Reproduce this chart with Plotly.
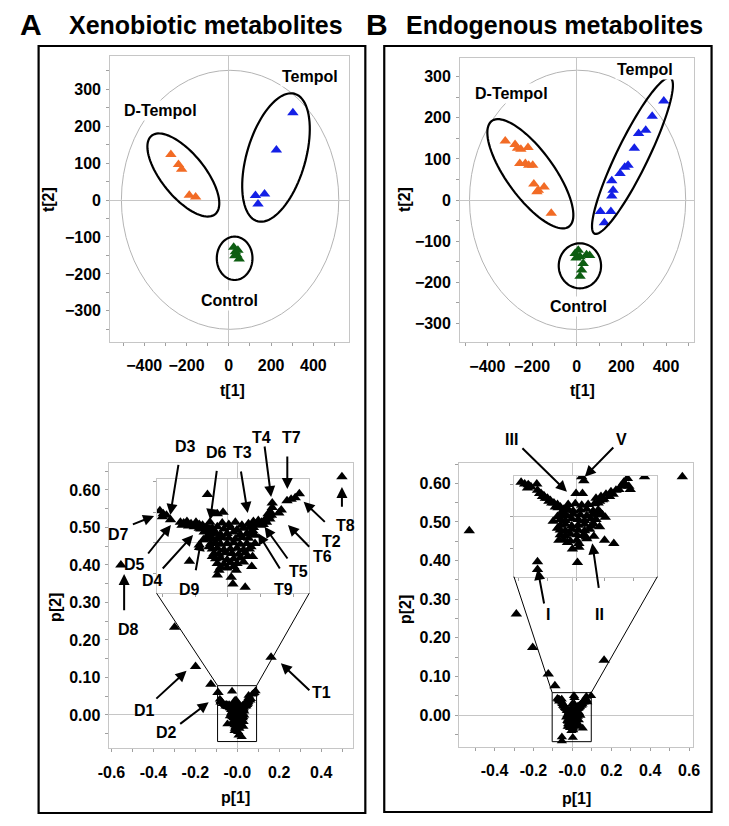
import numpy as np
import plotly.graph_objects as go

W, H = 729, 826
FONT = "Liberation Sans, Arial, Helvetica, sans-serif"

# ---------------- Score plots (t[1] vs t[2]) ----------------
xeno_dtempol_t1 = [-274, -238, -223, -187, -157]
xeno_dtempol_t2 = [123, 96, 83, 13, 8]
xeno_tempol_t1 = [303, 225, 126, 169, 138]
xeno_tempol_t2 = [236, 135, 12, 16, -11]
xeno_control_t1 = [23, 31, 38, 49, 28, 43]
xeno_control_t2 = [-128, -140, -149, -160, -151, -136]

endo_dtempol_t1 = [-320, -276, -265, -250, -218, -255, -230, -215, -197, -192, -178, -146, -114, -172]
endo_dtempol_t2 = [144, 135, 126, 124, 128, 89, 89, 85, 85, 39, 20, 32, -32, 24]
endo_tempol_t1 = [390, 338, 309, 277, 258, 230, 215, 194, 157, 163, 157, 106, 153, 124]
endo_tempol_t2 = [241, 204, 170, 162, 126, 85, 80, 65, 47, 24, 10, -28, -28, -55]
endo_control_t1 = [-7, 15, 44, 29, 22, 15, 7, 58, -3]
endo_control_t2 = [-130, -138, -133, -154, -170, -185, -122, -135, -141]

score_x_ticks = [-400, -200, 0, 200, 400]
score_y_ticks = [-300, -200, -100, 0, 100, 200, 300]

# ---------------- Loading plots (p[1] vs p[2]) ----------------
xeno_outer_p1 = [-0.299, -0.199, -0.126, -0.092, 0.161, -0.555, 0.499]
xeno_outer_p2 = [0.234, 0.129, 0.082, 0.060, 0.154, 0.400, 0.635]

xeno_core_p1 = [
    -0.083, -0.079, -0.075, -0.070, -0.080,
    -0.058, -0.054, -0.050, -0.045, -0.039, -0.035, -0.031, -0.026, -0.022, -0.035, -0.029, -0.025, -0.030,
    -0.056, -0.048, -0.041, -0.033, -0.027, -0.020,
    -0.025, -0.013, -0.006, -0.022,
    -0.007, 0.001, 0.009, 0.017, 0.025, 0.031,
    -0.019, -0.013, -0.005, 0.003, 0.011, 0.019, 0.027,
    -0.021, -0.015, -0.009, -0.001, 0.007, 0.015, 0.023, 0.029,
    -0.019, -0.013, -0.007, 0.001, 0.009, 0.017, 0.025,
    -0.021, -0.015, -0.009, -0.001, 0.007, 0.015, 0.023,
    -0.019, -0.013, -0.005, 0.003, 0.011, 0.019, 0.026,
    -0.017, -0.011, -0.003, 0.005, 0.013, 0.021,
    -0.015, -0.009, -0.001, 0.007, 0.015,
    -0.013, -0.005, 0.003, 0.011,
    -0.009, -0.001, 0.007,
    -0.024, 0.033, 0.030, -0.023, 0.028, -0.019, 0.024, 0.019, -0.011, 0.010,
    0.033, 0.037, 0.041, 0.045, 0.048, 0.050, 0.052, 0.054, 0.054, 0.049, 0.039,
    0.031, 0.036, 0.043, 0.047, 0.051, 0.053,
    0.062, 0.065, 0.072, 0.077, 0.082, 0.087,
    -0.047, -0.013, 0.004, 0.006, 0.021, 0.029, 0.030, 0.033, -0.035,
]
xeno_core_p2 = [
    0.042, 0.038, 0.036, 0.030, 0.034,
    0.027, 0.026, 0.028, 0.025, 0.027, 0.024, 0.023, 0.021, 0.018, 0.019, 0.014, 0.009, 0.004,
    0.023, 0.022, 0.021, 0.018, 0.016, 0.015,
    0.063, 0.038, 0.040, 0.027,
    0.026, 0.024, 0.027, 0.023, 0.025, 0.028,
    0.019, 0.021, 0.018, 0.020, 0.017, 0.019, 0.021,
    0.012, 0.013, 0.011, 0.012, 0.014, 0.011, 0.012, 0.013,
    0.006, 0.005, 0.007, 0.006, 0.005, 0.007, 0.006,
    -0.001, 0.000, -0.002, -0.001, 0.000, -0.002, -0.001,
    -0.008, -0.007, -0.009, -0.008, -0.007, -0.009, -0.008,
    -0.014, -0.015, -0.013, -0.014, -0.015, -0.013,
    -0.021, -0.020, -0.022, -0.021, -0.020,
    -0.027, -0.028, -0.026, -0.027,
    -0.032, -0.033, -0.031,
    0.005, 0.010, 0.016, -0.005, -0.005, -0.018, -0.018, -0.025, -0.036, -0.036,
    0.025, 0.029, 0.027, 0.030, 0.032, 0.035, 0.040, 0.046, 0.052, 0.038, 0.023,
    0.020, 0.024, 0.024, 0.027, 0.031, 0.036,
    0.039, 0.043, 0.055, 0.057, 0.059, 0.064,
    -0.024, -0.042, -0.045, -0.054, -0.058, -0.031, -0.018, -0.001, -0.003,
]

endo_outer_p1 = [0.565, -0.530, -0.288, -0.204, -0.124, -0.090, 0.163]
endo_outer_p2 = [0.617, 0.477, 0.262, 0.175, 0.106, 0.076, 0.142]

endo_core_p1 = [
    -0.077, -0.072, -0.067, -0.065, -0.068, -0.055, -0.063,
    -0.054, -0.049, -0.045, -0.040, -0.036, -0.031, -0.026, -0.022, -0.017, -0.047, -0.038, -0.029,
    -0.051, -0.043, -0.034, -0.025, -0.019,
    0.028, 0.035, 0.042, 0.049, 0.056, 0.063, 0.067, 0.072, 0.074, 0.076, 0.096, 0.037, 0.047, 0.033,
    0.031, 0.039, 0.052, 0.060, 0.069,
    0.008, 0.011, 0.000, 0.009,
    -0.011, -0.001, 0.008, 0.017, 0.026,
    -0.017, -0.011, -0.004, 0.006, 0.015, 0.024, 0.031,
    -0.020, -0.013, -0.004, 0.006, 0.015, 0.024, 0.031,
    -0.022, -0.015, -0.006, 0.003, 0.012, 0.021, 0.028,
    -0.022, -0.015, -0.006, 0.003, 0.012, 0.021,
    -0.022, -0.015, -0.006, 0.003, 0.012, 0.019,
    -0.022, -0.015, -0.008, 0.001, 0.010,
    -0.024, -0.017, -0.008, 0.001,
    -0.026, 0.034, -0.026, 0.025, 0.015, -0.012, 0.004,
    -0.032, 0.037, 0.041, 0.033, 0.025, 0.040, 0.053, -0.005, 0.004, 0.014, 0.002, -0.054, -0.054,
]
endo_core_p2 = [
    0.043, 0.041, 0.040, 0.038, 0.036, 0.041, 0.037,
    0.033, 0.029, 0.026, 0.023, 0.020, 0.017, 0.015, 0.012, 0.009, 0.025, 0.019, 0.012,
    0.029, 0.023, 0.017, 0.011, 0.006,
    0.023, 0.025, 0.028, 0.031, 0.033, 0.038, 0.043, 0.048, 0.038, 0.034, 0.050, 0.021, 0.025, 0.019,
    0.017, 0.022, 0.028, 0.034, 0.040,
    0.050, 0.045, 0.029, 0.029,
    0.015, 0.016, 0.014, 0.015, 0.016,
    0.008, 0.009, 0.007, 0.008, 0.009, 0.007, 0.008,
    0.002, 0.001, 0.003, 0.002, 0.001, 0.003, 0.002,
    -0.004, -0.005, -0.003, -0.004, -0.005, -0.003, -0.004,
    -0.011, -0.010, -0.012, -0.011, -0.010, -0.012,
    -0.017, -0.018, -0.016, -0.017, -0.018, -0.016,
    -0.023, -0.024, -0.022, -0.023, -0.024,
    -0.030, -0.029, -0.031, -0.030,
    0.000, 0.005, -0.015, -0.010, -0.028, -0.033, -0.034,
    -0.006, 0.002, -0.001, -0.013, -0.025, -0.030, -0.034, -0.041, -0.039, -0.026, -0.058, -0.057, -0.067,
]

p2_ticks = [0.0, 0.1, 0.2, 0.3, 0.4, 0.5, 0.6]
xeno_p1_ticks = [-0.6, -0.4, -0.2, 0.0, 0.2, 0.4]
xeno_p1_labels = ["-0.6", "-0.4", "-0.2", "-0.0", "0.2", "0.4"]
endo_p1_ticks = [-0.4, -0.2, 0.0, 0.2, 0.4, 0.6]
endo_p1_labels = ["-0.4", "-0.2", "-0.0", "0.2", "0.4", "0.6"]

xeno_zoom_box = (-0.094, 0.092, -0.071, 0.078)   # p1 min, p1 max, p2 min, p2 max
endo_zoom_box = (-0.104, 0.097, -0.069, 0.058)

# ---------------- Geometry (pixel boxes of each plot area) ----------------
AX = {
    1: dict(px=(101.7, 346.7, 56.0, 341.7), xr=(-561, 569), yr=(-383.5, 389.7)),
    2: dict(px=(460.5, 700.7, 58.3, 342.3), xr=(-522, 527), yr=(-346, 345)),
    3: dict(px=(100.0, 350.7, 463.3, 748.3), xr=(-0.614, 0.552), yr=(-0.089, 0.671)),
    4: dict(px=(149.3, 305.7, 479.3, 593.3), xr=(-0.087, 0.099), yr=(-0.066, 0.083)),
    5: dict(px=(459.3, 699.3, 463.3, 746.7), xr=(-0.583, 0.620), yr=(-0.082, 0.652)),
    6: dict(px=(515.7, 662.7, 476.0, 576.7), xr=(-0.087, 0.114), yr=(-0.076, 0.051)),
}


def px2data(i, px, py):
    g = AX[i]
    L, R, T, B = g["px"]
    x0, x1 = g["xr"]
    y0, y1 = g["yr"]
    return x0 + (px - L) / (R - L) * (x1 - x0), y1 - (py - T) / (B - T) * (y1 - y0)


def ellipse_path(i, cx, cy, a, b, ang_deg, n=90):
    t = np.linspace(0, 2 * np.pi, n)
    ang = np.radians(ang_deg)
    xs = cx + a * np.cos(t) * np.cos(ang) - b * np.sin(t) * np.sin(ang)
    ys = cy + a * np.cos(t) * np.sin(ang) + b * np.sin(t) * np.cos(ang)
    pts = [px2data(i, x, y) for x, y in zip(xs, ys)]
    return "M " + " L ".join(f"{x:.3f},{y:.5f}" for x, y in pts) + " Z"


ORANGE = "#f26b25"
BLUE = "#1420e6"
GREEN = "#0d5e12"
FRAME = "#c6c6c6"
ZERO = "#c6c6c6"
TICKC = "#a0a0a0"

fig = go.Figure()


def ref(i):
    return ("x" if i == 1 else f"x{i}"), ("y" if i == 1 else f"y{i}")


def add_pts(i, xs, ys, color, size):
    xr, yr = ref(i)
    fig.add_trace(go.Scatter(x=xs, y=ys, mode="markers", xaxis=xr, yaxis=yr,
                             marker=dict(symbol="triangle-up", size=size, color=color,
                                         line=dict(width=0)),
                             hoverinfo="skip", showlegend=False))


add_pts(1, xeno_dtempol_t1, xeno_dtempol_t2, ORANGE, 10)
add_pts(1, xeno_tempol_t1, xeno_tempol_t2, BLUE, 10)
add_pts(1, xeno_control_t1, xeno_control_t2, GREEN, 10)
add_pts(2, endo_dtempol_t1, endo_dtempol_t2, ORANGE, 10)
add_pts(2, endo_tempol_t1, endo_tempol_t2, BLUE, 10)
add_pts(2, endo_control_t1, endo_control_t2, GREEN, 10)
add_pts(3, xeno_core_p1, xeno_core_p2, "black", 9)
add_pts(3, xeno_outer_p1, xeno_outer_p2, "black", 10)
add_pts(4, xeno_core_p1, xeno_core_p2, "black", 10)
add_pts(5, endo_core_p1, endo_core_p2, "black", 9)
add_pts(5, endo_outer_p1, endo_outer_p2, "black", 10)
add_pts(6, endo_core_p1, endo_core_p2, "black", 10)

tickfont = dict(family=FONT, size=16, color="black", weight="bold")
layout = dict(width=W, height=H, margin=dict(l=0, r=0, t=0, b=0), autosize=False,
              paper_bgcolor="white", plot_bgcolor="white", showlegend=False)

for i, g in AX.items():
    L, R, T, B = g["px"]
    xa = "xaxis" if i == 1 else f"xaxis{i}"
    ya = "yaxis" if i == 1 else f"yaxis{i}"
    xr, yr = ref(i)
    common = dict(showline=True, linecolor=FRAME, linewidth=1, mirror=True, showgrid=False,
                  zeroline=True, zerolinecolor=ZERO, zerolinewidth=1,
                  ticks="outside", ticklen=3, tickcolor=TICKC, tickwidth=1,
                  tickfont=tickfont, fixedrange=True)
    xd = dict(common, domain=[L / W, R / W], range=list(g["xr"]), anchor=yr)
    yd = dict(common, domain=[1 - B / H, 1 - T / H], range=list(g["yr"]), anchor=xr)
    if i in (1, 2):
        xd.update(tickmode="array", tickvals=score_x_ticks,
                  minor=dict(tickmode="linear", tick0=0, dtick=100, ticks="outside", ticklen=3, tickcolor=TICKC),
                  ticklabelstandoff=6)
        yd.update(tickmode="array", tickvals=score_y_ticks,
                  minor=dict(tickmode="linear", tick0=0, dtick=50, ticks="outside", ticklen=3, tickcolor=TICKC),
                  ticklabelstandoff=2)
    elif i in (3, 5):
        tv, tt = (xeno_p1_ticks, xeno_p1_labels) if i == 3 else (endo_p1_ticks, endo_p1_labels)
        xd.update(tickmode="array", tickvals=tv, ticktext=tt,
                  minor=dict(tickmode="linear", tick0=0, dtick=0.1, ticks="outside", ticklen=3, tickcolor=TICKC),
                  ticklabelstandoff=6)
        yd.update(tickmode="array", tickvals=p2_ticks, ticktext=[f"{v:.2f}" for v in p2_ticks],
                  minor=dict(tickmode="linear", tick0=0, dtick=0.05, ticks="outside", ticklen=3, tickcolor=TICKC),
                  ticklabelstandoff=1)
    else:
        xd.update(showticklabels=False, tickmode="linear", tick0=0, dtick=0.04)
        yd.update(showticklabels=False, tickmode="linear", tick0=0, dtick=0.04)
    layout[xa] = xd
    layout[ya] = yd

fig.update_layout(**layout)

shapes = []
# Hotelling T2 ellipses
shapes.append(dict(type="circle", xref="x", yref="y", x0=-508, x1=520, y0=-350, y1=351,
                   line=dict(color="#b4b4b4", width=1), layer="below"))
shapes.append(dict(type="circle", xref="x2", yref="y2", x0=-480, x1=488, y0=-315, y1=316,
                   line=dict(color="#b4b4b4", width=1), layer="below"))
# group ellipses (pixel-space centre, semi-axes, angle)
grp = [
    (1, 176.7, 175.0, 51, 22, 50),
    (1, 271.7, 157.5, 66.5, 30, -73),
    (1, 229.3, 258.3, 21.7, 18.3, 90),
    (2, 532.5, 173.8, 66, 24, 53),
    (2, 637.2, 155.8, 87, 16, -63.4),
    (2, 583.3, 265.8, 22.5, 21.7, 90),
]
for i, cx, cy, a, b, ang in grp:
    xr, yr = ref(i)
    shapes.append(dict(type="path", xref=xr, yref=yr, path=ellipse_path(i, cx, cy, a, b, ang),
                       line=dict(color="black", width=2.2)))

# inset white covers + zoom boxes + connector lines
for main, ins, box in ((3, 4, xeno_zoom_box), (5, 6, endo_zoom_box)):
    g = AX[ins]
    xr, yr = ref(ins)
    shapes.append(dict(type="rect", xref=xr, yref=yr, x0=g["xr"][0], x1=g["xr"][1],
                       y0=g["yr"][0], y1=g["yr"][1], fillcolor="white", line=dict(width=0), layer="below"))
    mx, my = ref(main)
    shapes.append(dict(type="rect", xref=mx, yref=my, x0=box[0], x1=box[1], y0=box[2], y1=box[3],
                       line=dict(color="black", width=1)))
    L, R, T, B = g["px"]
    blx, bly = px2data(main, L, B)
    brx, bry = px2data(main, R, B)
    shapes.append(dict(type="line", xref=mx, yref=my, x0=blx, y0=bly, x1=box[0], y1=box[3],
                       line=dict(color="black", width=1)))
    shapes.append(dict(type="line", xref=mx, yref=my, x0=brx, y0=bry, x1=box[1], y1=box[3],
                       line=dict(color="black", width=1)))

# outer panel frames
for x0, x1, y0, y1 in ((28.3, 363.3, 46, 813), (382.7, 718.3, 46, 812)):
    shapes.append(dict(type="rect", xref="paper", yref="paper", x0=x0 / W, x1=x1 / W,
                       y0=1 - y1 / H, y1=1 - y0 / H, line=dict(color="black", width=2.2)))
fig.update_layout(shapes=shapes)

ann = []


def txt(s, px, py, size=16, angle=0, xanchor="center", bg=None):
    d = dict(text=f"<b>{s}</b>", x=px / W, y=1 - py / H, xref="paper", yref="paper",
             showarrow=False, font=dict(family=FONT, size=size, color="black"),
             xanchor=xanchor, yanchor="middle", textangle=angle)
    if bg:
        d.update(bgcolor=bg, borderpad=1)
    return d


def arrow(tail, head):
    return dict(text="", x=head[0] / W, y=1 - head[1] / H, xref="paper", yref="paper",
                ax=tail[0] - head[0], ay=tail[1] - head[1], showarrow=True,
                arrowhead=2, arrowsize=1.1, arrowwidth=2, arrowcolor="black", standoff=0)


# titles
ann.append(txt("A", 21, 25, size=30))
ann.append(txt("Xenobiotic metabolites", 57, 25, size=25, xanchor="left"))
ann.append(txt("B", 375, 25, size=30))
ann.append(txt("Endogenous metabolites", 403, 25, size=25, xanchor="left"))

# axis titles
for s, px, py, ang in (("t[2]", 39, 200, -90), ("t[1]", 227, 390, 0),
                       ("t[2]", 404, 200, -90), ("t[1]", 586, 390, 0),
                       ("p[2]", 45, 607, -90), ("p[1]", 230, 797, 0),
                       ("p[2]", 404, 610, -90), ("p[1]", 580, 798, 0)):
    ann.append(txt(s, px, py, size=16, angle=ang))

# group labels
for s, px, py in (("Tempol", 306.7, 77), ("D-Tempol", 153.3, 111), ("Control", 224, 300),
                  ("Tempol", 650, 69.5), ("D-Tempol", 512.7, 93.3), ("Control", 581.7, 306.7)):
    ann.append(txt(s, px, py, size=16, bg="white"))

# loading plot labels
labels = [("D3", 179.3, 446), ("D6", 210.7, 452.7), ("T3", 237.3, 452.7), ("T4", 256.7, 437.3),
          ("T7", 287.3, 437.3), ("T8", 343.3, 525), ("T2", 328.3, 541.7), ("T6", 319.3, 556),
          ("T5", 295, 571.7), ("T9", 279.3, 589.3), ("D9", 182.7, 589.3), ("D4", 145, 580),
          ("D5", 127, 564), ("D7", 110, 534), ("D8", 120.7, 629.3), ("D1", 136.7, 710),
          ("D2", 159.3, 732.7), ("T1", 318.3, 692.7),
          ("III", 513.3, 439.3), ("V", 626, 439.3), ("I", 551, 614), ("II", 603.3, 614)]
for s, px, py in labels:
    ann.append(txt(s, px, py, size=16))

arrows = [((171.7, 463.3), (163.3, 515)), ((211, 469.3), (204.3, 520)), ((235.7, 470), (242.7, 513)),
          ((260, 445), (266.7, 497)), ((283.3, 455), (283.3, 489)), ((339.3, 508.3), (339.3, 487)),
          ((322.7, 523.3), (300, 501.7)), ((306.7, 548.3), (284, 525)), ((284, 560), (260, 526.7)),
          ((276, 570), (253.3, 533.3)), ((189.3, 571.7), (195, 540)), ((155, 570), (186.7, 535)),
          ((140, 555), (164, 525)), ((124, 525), (146.7, 516)), ((116, 611.7), (116, 574)),
          ((148.3, 700), (180, 670.7)), ((172.7, 725), (202.7, 702.3)), ((306.7, 691.7), (276.7, 663.3)),
          ((524, 446.7), (570, 491.7)), ((618.3, 446), (588.3, 476.7)),
          ((546.7, 605), (540, 569)), ((602.7, 589.3), (596, 543.3))]
for t, h in arrows:
    ann.append(arrow(t, h))

fig.update_layout(annotations=ann)
fig.write_html("out.html", config={"displayModeBar": False},
               post_script="document.body.style.margin='0px';document.body.style.padding='0px';"
                           "document.documentElement.style.overflow='hidden';")
